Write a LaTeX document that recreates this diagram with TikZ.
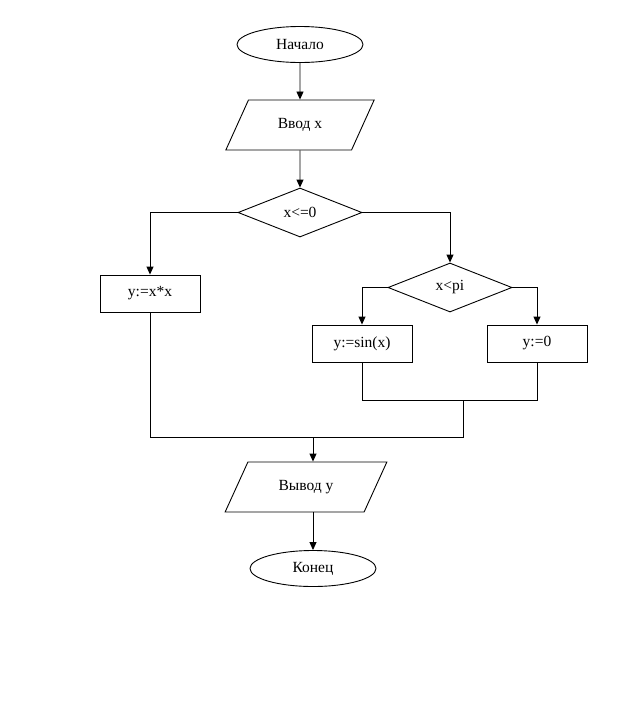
\documentclass[tikz,border=0pt]{standalone}
\usepackage{fontspec}
\setmainfont{Liberation Serif}
\usetikzlibrary{shapes.geometric,arrows.meta}
\begin{document}
\begin{tikzpicture}[x=1pt,y=-1pt,
  every node/.style={font=\fontsize{15.5}{17}\selectfont, inner sep=0pt},
  base/.style={draw=black, line width=0.9pt, fill=white},
  term/.style={base, ellipse, minimum width=126pt, minimum height=36pt},
  io/.style={base, trapezium, trapezium stretches=true, trapezium left angle=53.5, trapezium right angle=126.5, minimum width=149pt, minimum height=50pt},
  io2/.style={base, trapezium, trapezium stretches=true, trapezium left angle=51.5, trapezium right angle=128.5, minimum width=162pt, minimum height=50pt},
  dec/.style={base, diamond, aspect=2.53, minimum width=124pt, minimum height=49pt},
  proc/.style={base, rectangle, minimum width=100pt, minimum height=37pt},
  line/.style={draw=black, line width=0.9pt},
  arr/.style={line, -{Triangle[width=7pt,length=8pt]}}]
\useasboundingbox[fill=white] (0,0) rectangle (638,713);
\node[term] (start) at (300,44.5) {Начало};
\node[io] (in) at (300,125) {Ввод x};
\node[dec] (d1) at (300,212.5) {x<=0};
\node[proc] (p1) at (150,293.5) {y:=x*x};
\node[dec] (d2) at (450,287.5) {x<pi};
\node[proc] (p2) at (362,343.5) {y:=sin(x)};
\node[proc] (p3) at (537,343.5) {y:=0};
\coordinate (j1) at (463,400.5);
\coordinate (j2) at (463,437.5);
\coordinate (m2) at (313,437.5);
\node[io2] (out) at (306,487) {Вывод y};
\node[term] (end) at (313,568.5) {Конец};
\draw[arr] (start) -- (in);
\draw[arr] (in) -- (d1);
\draw[arr] (d1.west) -| (p1.north);
\draw[arr] (d1.east) -| (d2.north);
\draw[arr] (d2.west) -| (p2.north);
\draw[arr] (d2.east) -| (p3.north);
\draw[line] (p2.south) |- (j1) -| (p3.south);
\draw[line] (j1) -- (j2);
\draw[line] (p1.south) |- (j2);
\draw[arr] (m2) -- (m2 |- out.north);
\draw[arr] (out.south -| end) -- (end.north);
\end{tikzpicture}
\end{document}
